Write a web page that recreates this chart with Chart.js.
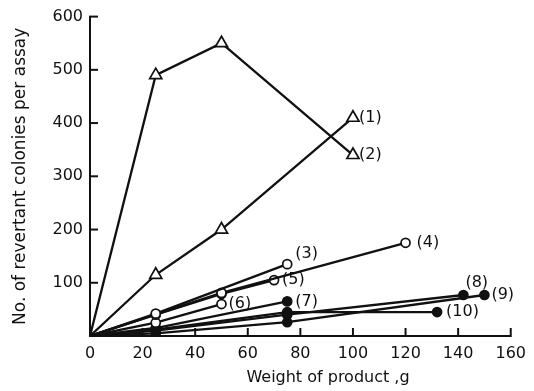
<!DOCTYPE html>
<html>
<head>
<meta charset="utf-8">
<script src="https://cdn.jsdelivr.net/npm/chart.js@4/dist/chart.umd.min.js"></script>
<style>
  html, body { margin: 0; padding: 0; background: #fff; }
  #wrap { width: 534px; height: 391px; position: relative; }
</style>
</head>
<body>
<div id="wrap"><canvas id="c"></canvas></div>
<script>
// Revertant colonies vs. weight of product, ten assays
const xTicks = [0, 20, 40, 60, 80, 100, 120, 140, 160];
const yTicks = [0, 100, 200, 300, 400, 500, 600];

const seriesNames = ['(1)', '(2)', '(3)', '(4)', '(5)', '(6)', '(7)', '(8)', '(9)', '(10)'];

const x1 = [0, 25, 50, 100],   y1 = [0, 115, 200, 410];
const x2 = [0, 25, 50, 100],   y2 = [0, 490, 550, 340];
const x3 = [0, 25, 75],        y3 = [0, 42, 135];
const x4 = [0, 50, 120],       y4 = [0, 81, 175];
const x5 = [0, 25, 50, 70],    y5 = [0, 40, 79, 105];
const x6 = [0, 25, 50],        y6 = [0, 25, 60];
const x7 = [0, 25, 75],        y7 = [0, 15, 65];
const x8 = [0, 25, 75, 142],   y8 = [0, 10, 40, 77];
const x9 = [0, 25, 75, 150],   y9 = [0, 5, 26, 77];
const x10 = [0, 25, 75, 132],  y10 = [0, 12, 45, 45];

const xs = [x1, x2, x3, x4, x5, x6, x7, x8, x9, x10];
const ys = [y1, y2, y3, y4, y5, y6, y7, y8, y9, y10];

// marker kind per series: open triangle, open circle, filled circle
const markerKind = ['tri', 'tri', 'open', 'open', 'open', 'open', 'fill', 'fill', 'fill', 'fill'];
// label placement relative to the last point [dx, dy]
const labelOffset = [[6, 0], [6, 0], [8, -10], [11, 0], [8, 0], [7, 0], [8, 0], [2, -12], [7, 0], [9, 0]];

const FONT = '"DejaVu Sans", sans-serif';

const datasets = xs.map((xv, i) => {
  const kind = markerKind[i];
  return {
    label: seriesNames[i],
    data: xv.map((x, j) => ({ x: x, y: ys[i][j] })),
    showLine: true,
    borderColor: '#111',
    borderWidth: 2.3,
    tension: 0,
    pointStyle: kind === 'tri' ? 'triangle' : 'circle',
    pointRadius: ctx => ctx.dataIndex === 0 ? 0 : (kind === 'tri' ? 7 : 4.5),
    pointBorderWidth: 1.7,
    pointBorderColor: '#111',
    pointBackgroundColor: kind === 'fill' ? '#111' : '#fff',
    pointHoverRadius: 0
  };
});

const decor = {
  id: 'decor',
  beforeDraw(chart) {
    const c = chart.ctx;
    c.save();
    c.fillStyle = '#fff';
    c.fillRect(0, 0, chart.width, chart.height);
    c.restore();
  },
  afterDraw(chart) {
    const c = chart.ctx;
    const xs_ = chart.scales.x, ys_ = chart.scales.y;
    c.save();
    c.strokeStyle = '#111';
    c.lineWidth = 2;
    // inward tick marks
    const x0 = xs_.getPixelForValue(0);
    const y0 = ys_.getPixelForValue(0);
    yTicks.forEach(v => {
      if (v === 0) return;
      const py = ys_.getPixelForValue(v);
      c.beginPath(); c.moveTo(x0 - 1, py); c.lineTo(x0 + 8, py); c.stroke();
    });
    xTicks.forEach(v => {
      if (v === 0) return;
      const px = xs_.getPixelForValue(v);
      c.beginPath(); c.moveTo(px, y0 + 1); c.lineTo(px, y0 - 8); c.stroke();
    });
    // series labels beside the last point
    c.fillStyle = '#111';
    c.font = '16px ' + FONT;
    c.textBaseline = 'middle';
    c.textAlign = 'left';
    chart.data.datasets.forEach((ds, i) => {
      const meta = chart.getDatasetMeta(i);
      const pt = meta.data[meta.data.length - 1];
      const off = labelOffset[i];
      c.fillText(ds.label, pt.x + off[0], pt.y + off[1]);
    });
    // x axis title
    c.font = '16px ' + FONT;
    c.textAlign = 'center';
    c.fillText('Weight of product ,g', 328, 378);
    c.restore();
  }
};

new Chart(document.getElementById('c'), {
  type: 'scatter',
  data: { datasets: datasets },
  options: {
    responsive: true,
    maintainAspectRatio: false,
    animation: false,
    events: [],
    layout: { padding: { left: 8, right: 20, top: 14, bottom: 0 } },
    plugins: { legend: { display: false }, tooltip: { enabled: false } },
    scales: {
      x: {
        type: 'linear',
        min: 0, max: 160,
        afterFit: s => { s.height = 55; },
        afterBuildTicks: s => { s.ticks = xTicks.map(v => ({ value: v })); },
        grid: { drawOnChartArea: false, drawTicks: false },
        border: { display: true, color: '#111', width: 2 },
        ticks: { color: '#111', padding: 8, font: { family: FONT, size: 16 } }
      },
      y: {
        type: 'linear',
        min: 0, max: 600,
        afterFit: s => { s.width = 82; },
        afterBuildTicks: s => { s.ticks = yTicks.map(v => ({ value: v })); },
        grid: { drawOnChartArea: false, drawTicks: false },
        border: { display: true, color: '#111', width: 2 },
        ticks: {
          color: '#111', padding: 7, font: { family: FONT, size: 16 },
          callback: v => v === 0 ? '' : String(v)
        },
        title: {
          display: true,
          text: 'No. of revertant colonies per assay',
          color: '#111',
          font: { family: FONT, size: 17 },
          padding: { top: 2, bottom: 0 }
        }
      }
    }
  },
  plugins: [decor]
});
</script>
</body>
</html>
